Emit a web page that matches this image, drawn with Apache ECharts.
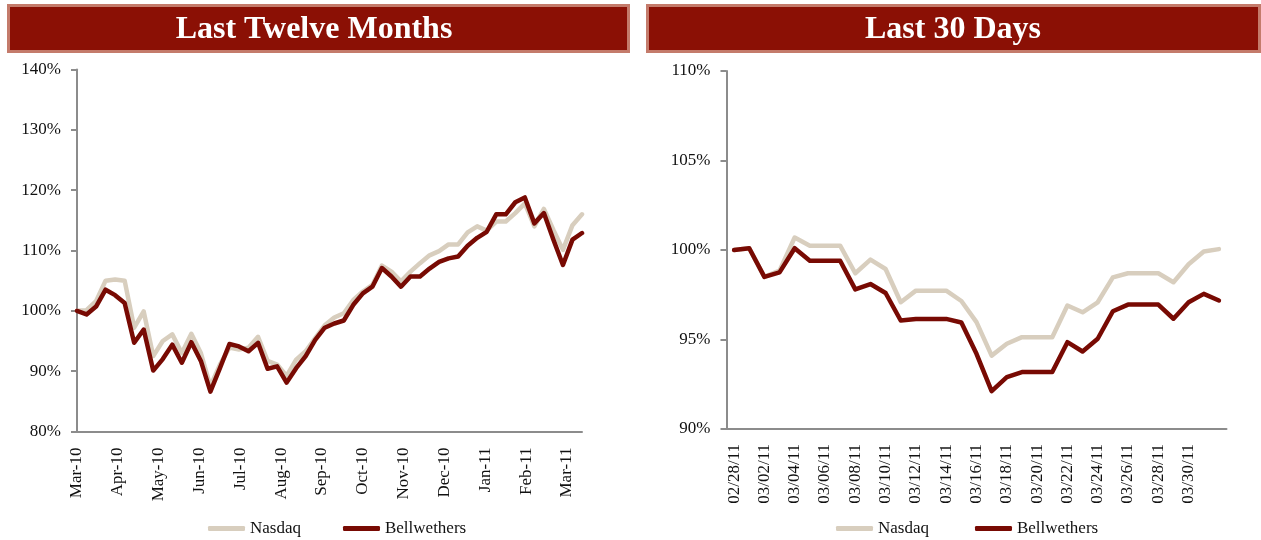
<!DOCTYPE html>
<html>
<head>
<meta charset="utf-8">
<script src="https://cdn.jsdelivr.net/npm/echarts@6/dist/echarts.min.js"></script>
<style>
html,body{margin:0;padding:0;background:#fff;}
#chart{width:1261px;height:540px;}
</style>
</head>
<body>
<div id="chart"></div>
<script>
// ---------- Data ----------
const seriesNames = ['Nasdaq', 'Bellwethers'];

// Last twelve months (weekly)
const weekDates = [
  '2010-03-01','2010-03-08','2010-03-15','2010-03-22','2010-03-29',
  '2010-04-05','2010-04-12','2010-04-19','2010-04-26',
  '2010-05-03','2010-05-10','2010-05-17','2010-05-24','2010-05-31',
  '2010-06-07','2010-06-14','2010-06-21','2010-06-28',
  '2010-07-05','2010-07-12','2010-07-19','2010-07-26',
  '2010-08-02','2010-08-09','2010-08-16','2010-08-23','2010-08-30',
  '2010-09-06','2010-09-13','2010-09-20','2010-09-27',
  '2010-10-04','2010-10-11','2010-10-18','2010-10-25',
  '2010-11-01','2010-11-08','2010-11-15','2010-11-22','2010-11-29',
  '2010-12-06','2010-12-13','2010-12-20','2010-12-27',
  '2011-01-03','2011-01-10','2011-01-17','2011-01-24','2011-01-31',
  '2011-02-07','2011-02-14','2011-02-21','2011-02-28',
  '2011-03-07'
];
const monthLabels = ['Mar-10','Apr-10','May-10','Jun-10','Jul-10','Aug-10','Sep-10',
  'Oct-10','Nov-10','Dec-10','Jan-11','Feb-11','Mar-11'];
const ltmNasdaq = [
  100.0,100.1,101.6,105.0,105.2,105.0,97.2,99.9,92.5,95.0,
  96.1,93.0,96.2,93.0,87.5,91.1,93.9,93.6,93.9,95.7,
  91.7,91.1,89.2,91.9,93.3,95.5,97.6,98.9,99.6,101.8,
  103.2,104.3,107.5,106.5,104.9,106.5,107.9,109.2,109.9,111.0,
  111.0,113.0,114.0,113.3,114.8,114.8,116.2,117.8,114.0,116.9,
  113.4,110.1,114.2,116.0
];
const ltmBellwethers = [
  100.0,99.4,100.7,103.5,102.6,101.3,94.7,96.9,90.1,92.0,
  94.4,91.4,94.8,91.7,86.6,90.5,94.5,94.1,93.3,94.7,
  90.4,90.8,88.1,90.5,92.5,95.2,97.2,97.9,98.4,101.0,
  102.9,104.0,107.1,105.7,104.0,105.7,105.7,107.0,108.1,108.7,
  109.0,110.8,112.1,113.1,116.0,116.0,118.0,118.8,114.5,116.2,
  111.8,107.6,111.8,112.9
];

// Last 30 days (daily)
const dayLabels = [
  '02/28/11','03/01/11','03/02/11','03/03/11','03/04/11','03/05/11','03/06/11','03/07/11',
  '03/08/11','03/09/11','03/10/11','03/11/11','03/12/11','03/13/11','03/14/11','03/15/11',
  '03/16/11','03/17/11','03/18/11','03/19/11','03/20/11','03/21/11','03/22/11','03/23/11',
  '03/24/11','03/25/11','03/26/11','03/27/11','03/28/11','03/29/11','03/30/11','03/31/11',
  '04/01/11'
];
const d30Nasdaq = [
  100.0,100.1,98.5,98.85,100.7,100.24,100.24,100.24,98.7,99.46,
  98.94,97.08,97.73,97.73,97.73,97.15,95.97,94.1,94.76,95.13,
  95.13,95.13,96.9,96.52,97.08,98.47,98.7,98.7,98.7,98.2,
  99.2,99.92,100.05
];
const d30Bellwethers = [
  100.0,100.1,98.5,98.75,100.1,99.4,99.4,99.4,97.8,98.1,
  97.6,96.06,96.15,96.15,96.15,95.95,94.2,92.12,92.9,93.18,
  93.18,93.18,94.85,94.33,95.04,96.58,96.95,96.95,96.95,96.16,
  97.08,97.55,97.18
];

// ---------- Styles ----------
const FONT = 'Liberation Serif';
const LIGHT = '#D8CEBE';
const DARK = '#780A03';
const AXIS = '#8C8C8C';
const TXT = '#111';

const chart = echarts.init(document.getElementById('chart'), null, {renderer: 'canvas'});

function yAxisCfg(grid, min, max, interval) {
  return {
    gridIndex: grid, type: 'value', min: min, max: max, interval: interval,
    axisLine: {show: true, lineStyle: {color: AXIS, width: 2}},
    axisTick: {show: true, inside: false, length: 6, lineStyle: {color: AXIS, width: 2}},
    splitLine: {show: false},
    axisLabel: {formatter: '{value}%', color: TXT, fontFamily: FONT, fontSize: 17, margin: 16}
  };
}

function lineSeries(name, xi, yi, data, color, z) {
  return {
    name: name, type: 'line', xAxisIndex: xi, yAxisIndex: yi, data: data,
    showSymbol: false, symbol: 'none', z: z,
    lineStyle: {color: color, width: 4.5, join: 'round', cap: 'round'},
    itemStyle: {color: color}
  };
}

function legendCfg(left, gap) {
  return {
    data: seriesNames, left: left, top: 520, orient: 'horizontal', padding: 0,
    icon: 'roundRect', itemWidth: 37, itemHeight: 5, itemGap: gap,
    textStyle: {fontFamily: FONT, fontSize: 17, color: TXT}
  };
}

const option = {
  animation: false,
  backgroundColor: '#fff',
  grid: [
    {left: 77, top: 69.5, width: 505, height: 362},
    {left: 726.5, top: 71, width: 500, height: 358}
  ],
  xAxis: [
    {gridIndex: 0, type: 'category', data: weekDates, boundaryGap: false, show: false},
    {
      gridIndex: 0, type: 'value', min: 0, max: 12.37, interval: 1, position: 'bottom',
      axisLine: {show: true, onZero: false, lineStyle: {color: AXIS, width: 2}},
      axisTick: {show: false}, splitLine: {show: false},
      axisLabel: {
        rotate: 90, margin: 16, color: TXT, fontFamily: FONT, fontSize: 17,
        showMinLabel: true, showMaxLabel: true,
        formatter: function (v) { return Number.isInteger(v) && monthLabels[v] ? monthLabels[v] : ''; }
      }
    },
    {
      gridIndex: 1, type: 'category', data: dayLabels, boundaryGap: true, position: 'bottom',
      axisLine: {show: true, onZero: false, lineStyle: {color: AXIS, width: 2}},
      axisTick: {show: false}, splitLine: {show: false},
      axisLabel: {
        rotate: 90, margin: 15, color: TXT, fontFamily: FONT, fontSize: 17,
        interval: function (i) { return i % 2 === 0 && i <= 30; }
      }
    }
  ],
  yAxis: [
    yAxisCfg(0, 80, 140, 10),
    yAxisCfg(1, 90, 110, 5)
  ],
  legend: [legendCfg(208, 42), legendCfg(836, 46)],
  series: [
    lineSeries(seriesNames[0], 0, 0, ltmNasdaq, LIGHT, 2),
    lineSeries(seriesNames[1], 0, 0, ltmBellwethers, DARK, 3),
    lineSeries(seriesNames[0], 2, 1, d30Nasdaq, LIGHT, 2),
    lineSeries(seriesNames[1], 2, 1, d30Bellwethers, DARK, 3)
  ],
  graphic: [
    {type: 'rect', left: 7, top: 4, z: 10,
      shape: {width: 620, height: 46},
      style: {fill: '#8B1005', stroke: '#C47B6B', lineWidth: 3}},
    {type: 'text', z: 11, x: 314, y: 30,
      style: {text: 'Last Twelve Months', fill: '#fff', font: 'bold 32px "Liberation Serif"',
        textAlign: 'center', textVerticalAlign: 'middle'}},
    {type: 'rect', left: 646, top: 4, z: 10,
      shape: {width: 612, height: 46},
      style: {fill: '#8B1005', stroke: '#C47B6B', lineWidth: 3}},
    {type: 'text', z: 11, x: 953, y: 30,
      style: {text: 'Last 30 Days', fill: '#fff', font: 'bold 32px "Liberation Serif"',
        textAlign: 'center', textVerticalAlign: 'middle'}}
  ]
};
chart.setOption(option);
</script>
</body>
</html>
